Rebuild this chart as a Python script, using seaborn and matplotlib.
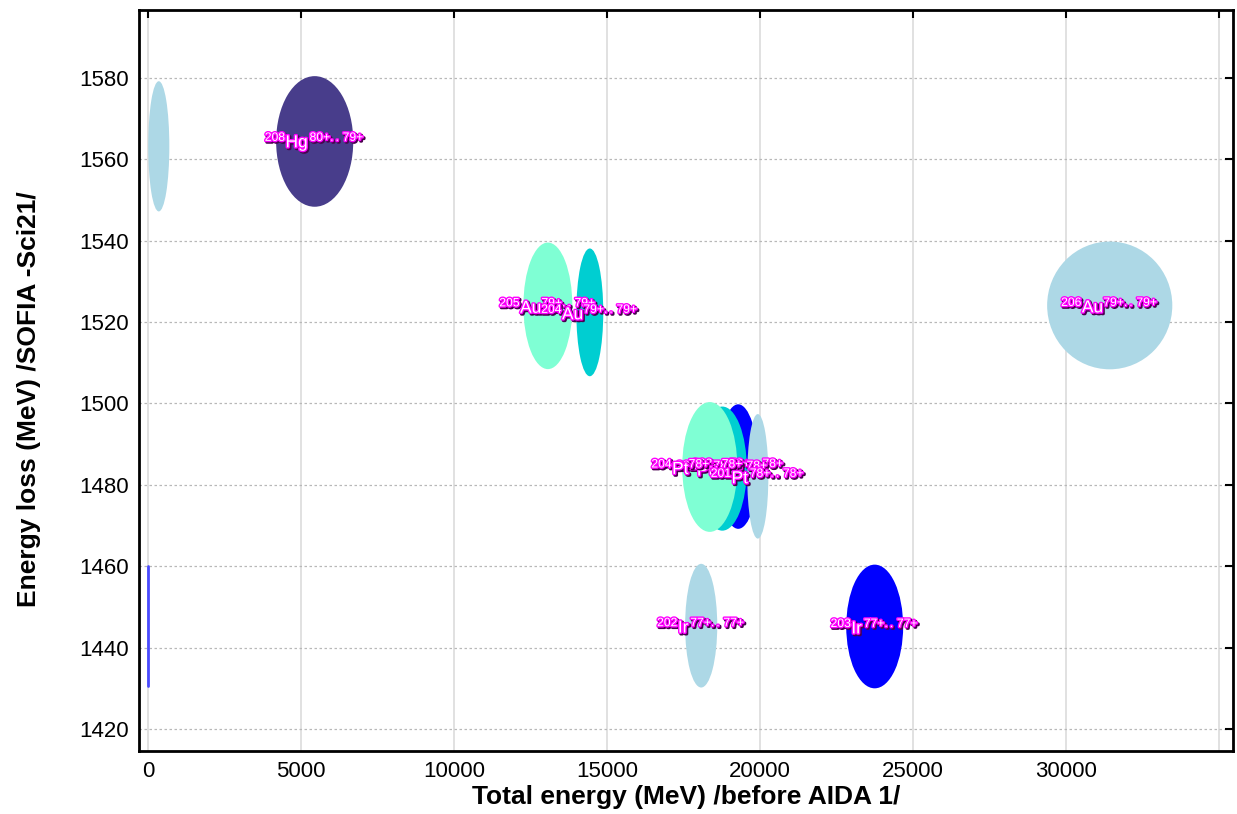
import matplotlib
matplotlib.use('Agg')
import matplotlib.pyplot as plt
import matplotlib.patheffects as pe
from matplotlib.patches import Ellipse
import seaborn as sns

# Ellipse data: isotope label, centre (total energy, energy loss), full widths, colour
isotopes = [r'$^{208}\mathrm{Hg}^{\,80{+}..\,79{+}}$',
            r'$^{205}\mathrm{Au}^{79{+}..\,79{+}}$',
            r'$^{204}\mathrm{Au}^{79{+}..\,79{+}}$',
            r'$^{206}\mathrm{Au}^{79{+}..\,79{+}}$',
            r'$^{203}\mathrm{Pt}^{78{+}..\,78{+}}$',
            r'$^{204}\mathrm{Pt}^{78{+}..\,78{+}}$',
            r'$^{202}\mathrm{Pt}^{78{+}..\,78{+}}$',
            r'$^{201}\mathrm{Pt}^{\,78{+}..\,78{+}}$',
            r'$^{202}\mathrm{Ir}^{\,77{+}..\,77{+}}$',
            r'$^{203}\mathrm{Ir}^{\,77{+}..\,77{+}}$']
e_total = [5440, 13060, 14430, 31420, 19280, 18350, 18760, 19920, 18070, 23740]
e_loss = [1564.4, 1524.0, 1522.4, 1524.1, 1484.5, 1484.4, 1484.0, 1482.1, 1445.4, 1445.2]
w_total = [2520, 1600, 880, 4090, 1300, 1800, 1600, 690, 1050, 1860]
h_loss = [32.1, 31.1, 31.4, 31.4, 30.6, 31.9, 30.5, 30.6, 30.4, 30.4]
colors = ['darkslateblue', 'aquamarine', 'darkturquoise', 'lightblue', 'blue',
          'aquamarine', 'darkturquoise', 'lightblue', 'lightblue', 'blue']
# label shifts in the Pt cluster (energy units) to mimic the overlapping text
label_dx = [0, 0, 0, 0, 0, -400, 0, 0, 0, 0]

# unlabeled ellipse near zero energy
extra_x, extra_y, extra_w, extra_h = 345, 1563.2, 690, 32.0
# thin line at zero energy
line_x = [0, 0]
line_y = [1430.5, 1460]

x_ticks = [0, 5000, 10000, 15000, 20000, 25000, 30000, 35000]
x_ticklabels = ['0', '5000', '10000', '15000', '20000', '25000', '30000', '']
y_ticks = [1420, 1440, 1460, 1480, 1500, 1520, 1540, 1560, 1580]

sns.set_style('white')
plt.rcParams['font.family'] = ['Liberation Sans', 'DejaVu Sans']
plt.rcParams['mathtext.fontset'] = 'custom'
plt.rcParams['mathtext.rm'] = 'Liberation Sans'
plt.rcParams['mathtext.it'] = 'Liberation Sans'
plt.rcParams['mathtext.bf'] = 'Liberation Sans:bold'

fig = plt.figure(figsize=(12.37, 8.14), dpi=100)
ax = fig.add_axes([0.1124, 0.0774, 0.8844, 0.9103])

# grid
for xv in x_ticks:
    ax.axvline(xv, color='#dcdcdc', lw=1.2, zorder=0)
for yv in y_ticks:
    ax.axhline(yv, color='#b8b8b8', lw=0.9, ls=(0, (2, 2)), zorder=0)

ax.add_patch(Ellipse((extra_x, extra_y), extra_w, extra_h, color='lightblue', lw=0, zorder=2))
ax.plot(line_x, line_y, color='#4a4aff', lw=2, zorder=2)

# stacking order as seen in the Pt cluster
order = [0, 1, 2, 3, 4, 6, 5, 7, 8, 9]
for i in order:
    ax.add_patch(Ellipse((e_total[i], e_loss[i]), w_total[i], h_loss[i],
                         color=colors[i], lw=0, zorder=2))

effects = [pe.Stroke(linewidth=2.2, foreground='#4a0050', offset=(1, -1)),
           pe.Stroke(linewidth=2.0, foreground='#ff00ff'),
           pe.Normal()]
for i in order:
    ax.text(e_total[i] + label_dx[i], e_loss[i], isotopes[i], color='white',
            fontsize=12.5, ha='center', va='center', zorder=5, path_effects=effects)

ax.set_xlim(-300, 35450)
ax.set_ylim(1414.6, 1596.7)
ax.set_xticks(x_ticks)
ax.set_xticklabels(x_ticklabels)
ax.set_yticks(y_ticks)
ax.tick_params(direction='in', length=6, width=1.5, labelsize=16, top=True, right=True,
               color='black', labelcolor='black', pad=7)

for s in ax.spines.values():
    s.set_color('black')
    s.set_linewidth(2)

ax.set_xlabel('Total energy (MeV) /before AIDA 1/', fontsize=19, fontweight='bold',
              color='black')
ax.set_ylabel('Energy loss (MeV) /SOFIA -Sci21/', fontsize=19, fontweight='bold',
              color='black')
ax.xaxis.set_label_coords(0.5, -0.046)
ax.yaxis.set_label_coords(-0.09, 0.475)

fig.savefig('out.png', dpi=100)
